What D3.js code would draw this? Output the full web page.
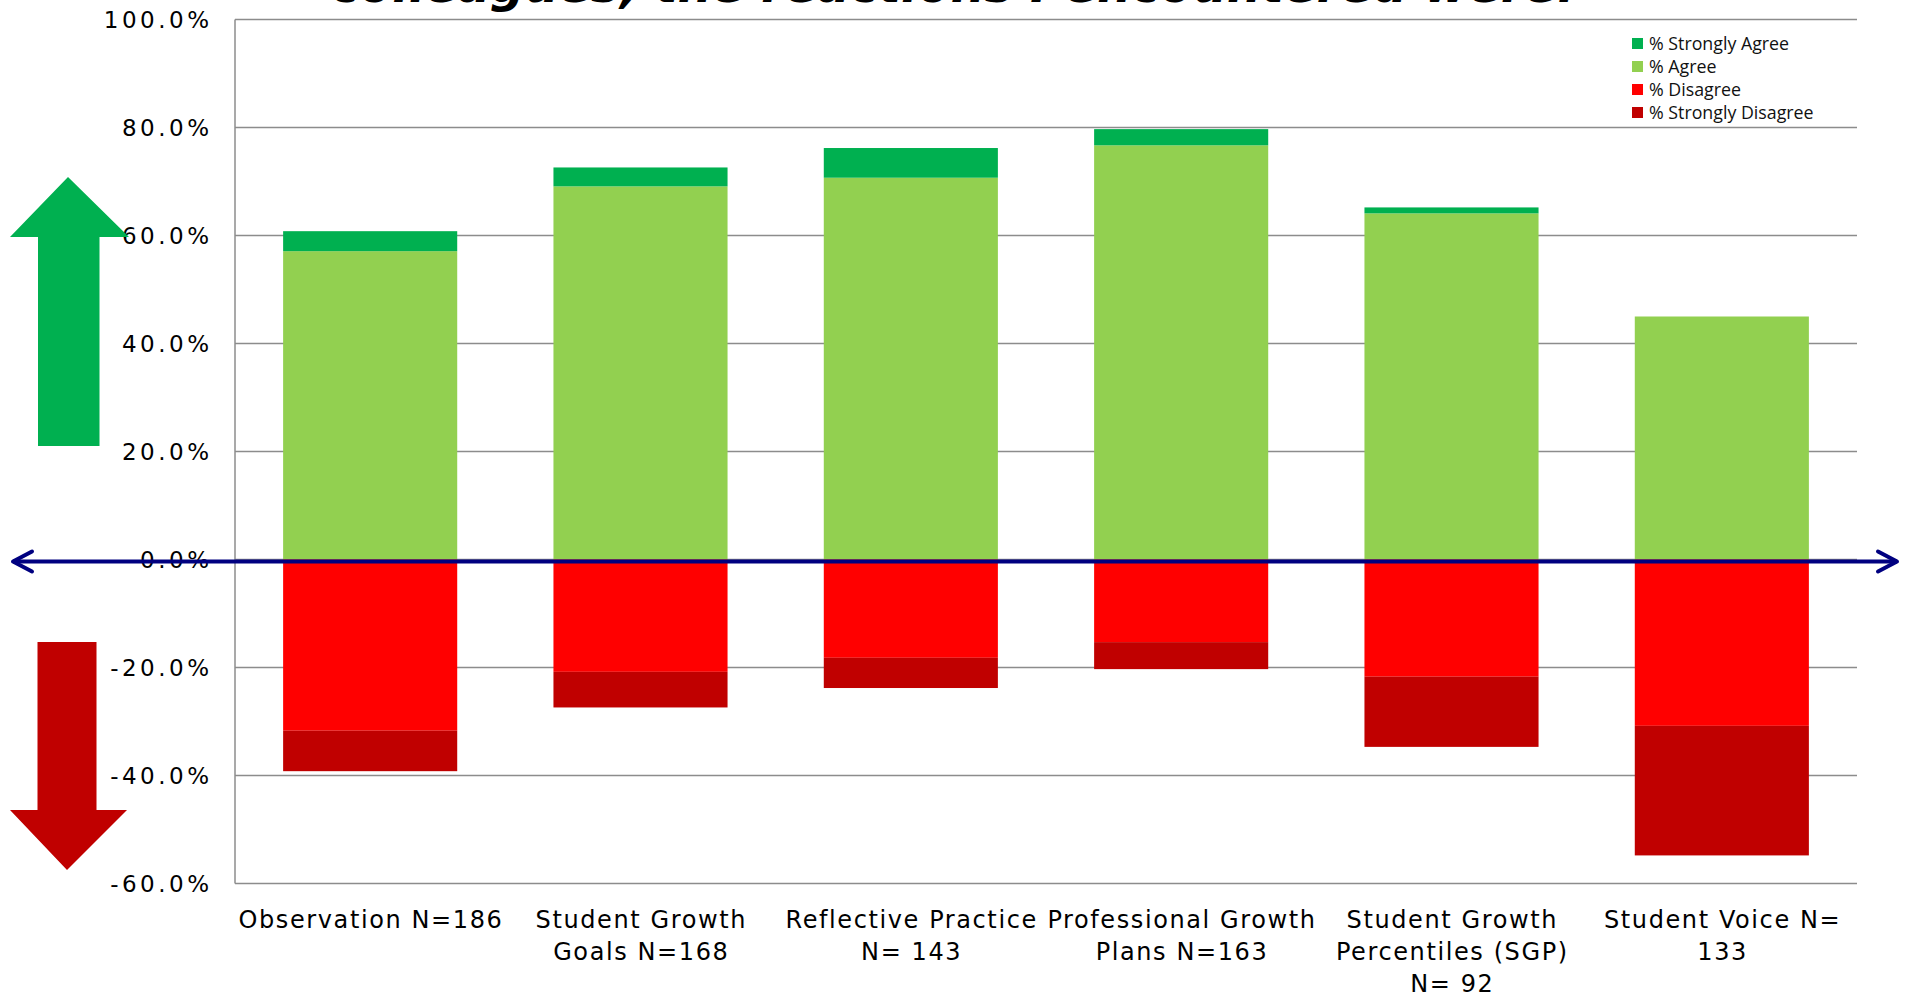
<!DOCTYPE html>
<html>
<head>
<meta charset="utf-8">
<script src="https://cdn.jsdelivr.net/npm/d3@7"></script>
<style>
html,body{margin:0;padding:0;background:#fff;}
svg{display:block;}
</style>
</head>
<body>
<svg id="chart" width="1908" height="997"></svg>
<script>
// ---- data ----
const categories = ["Observation N=186", "Student Growth Goals N=168", "Reflective Practice N= 143", "Professional Growth Plans N=163", "Student Growth Percentiles (SGP) N= 92", "Student Voice N= 133"];
const categoryLines = [
  ["Observation N=186"],
  ["Student Growth", "Goals N=168"],
  ["Reflective Practice", "N= 143"],
  ["Professional Growth", "Plans N=163"],
  ["Student Growth", "Percentiles (SGP)", "N= 92"],
  ["Student Voice N=", "133"]
];
const stronglyAgree    = [3.7, 3.5, 5.5, 3.0, 1.1, 0.0];
const agree            = [57.1, 69.1, 70.7, 76.7, 64.1, 45.0];
const disagree         = [31.7, 20.8, 18.2, 15.3, 21.7, 30.8];
const stronglyDisagree = [7.5, 6.6, 5.6, 5.0, 13.0, 24.0];
const yTicks = [-60, -40, -20, 0, 20, 40, 60, 80, 100];
const seriesNames = ["% Strongly Agree", "% Agree", "% Disagree", "% Strongly Disagree"];
const seriesColors = ["#00b050", "#92d050", "#ff0000", "#c00000"];
const titleText = "colleagues, the reactions I encountered were:";

// ---- layout ----
const svg = d3.select("#chart");
const plotLeft = 235, plotRight = 1857, plotTop = 19.5, plotBottom = 883.5;

const x = d3.scaleBand().domain(categories).range([plotLeft, plotRight]).paddingInner(0.356).paddingOuter(0.178);
const y = d3.scaleLinear().domain([-60, 100]).range([plotBottom, plotTop]);

const rows = categories.map((c, i) => ({
  cat: c,
  agree: agree[i],
  sa: stronglyAgree[i],
  dis: -disagree[i],
  sd: -stronglyDisagree[i]
}));
const keys = ["agree", "sa", "dis", "sd"];
const keyColor = {agree: seriesColors[1], sa: seriesColors[0], dis: seriesColors[2], sd: seriesColors[3]};
const stacked = d3.stack().keys(keys).offset(d3.stackOffsetDiverging)(rows);

// title (cut off at top, as in the reference)
svg.append("text")
  .attr("x", 331).attr("y", 2)
  .attr("font-family", "DejaVu Sans, Verdana, sans-serif")
  .attr("font-weight", "bold").attr("font-style", "italic")
  .attr("font-size", 48)
  .attr("fill", "#000")
  .text(titleText);

// gridlines
const grid = svg.append("g");
grid.selectAll("line").data(yTicks).join("line")
  .attr("x1", plotLeft).attr("x2", plotRight)
  .attr("y1", d => y(d)).attr("y2", d => y(d))
  .attr("stroke", "#8c8c8c").attr("stroke-width", 1.5);
// left axis line
svg.append("line")
  .attr("x1", plotLeft).attr("x2", plotLeft)
  .attr("y1", y(100)).attr("y2", y(-60))
  .attr("stroke", "#8c8c8c").attr("stroke-width", 1.5);

// tick labels
const fmt = d => (d3.format(".1f")(d) + "%").replace("\u2212", "-");
svg.append("g").selectAll("text").data(yTicks).join("text")
  .attr("x", 212.5).attr("y", d => y(d))
  .attr("dy", "0.36em")
  .attr("text-anchor", "end")
  .attr("font-family", "DejaVu Sans, Verdana, sans-serif")
  .attr("font-size", 23)
  .attr("letter-spacing", 3.5)
  .attr("fill", "#000")
  .text(fmt);

// bars
const barG = svg.append("g");
stacked.forEach(layer => {
  barG.append("g").attr("fill", keyColor[layer.key])
    .selectAll("rect").data(layer).join("rect")
    .attr("x", d => x(d.data.cat))
    .attr("width", x.bandwidth())
    .attr("y", d => y(Math.max(d[0], d[1])))
    .attr("height", d => Math.abs(y(d[0]) - y(d[1])));
});

// x labels
const xl = svg.append("g");
categories.forEach((c, i) => {
  const cx = x(c) + x.bandwidth() / 2 + 0.8;
  const t = xl.append("text")
    .attr("x", cx)
    .attr("y", 928)
    .attr("text-anchor", "middle")
    .attr("font-family", "DejaVu Sans, Verdana, sans-serif")
    .attr("font-size", 24)
    .attr("letter-spacing", 1.6)
    .attr("fill", "#000");
  categoryLines[i].forEach((ln, j) => {
    t.append("tspan").attr("x", cx).attr("dy", j === 0 ? 0 : 32).text(ln);
  });
});

// zero line with arrowheads
const zy = y(0) + 2;
const zl = svg.append("g").attr("stroke", "#000080").attr("stroke-width", 4).attr("fill", "none")
  .attr("stroke-linecap", "round").attr("stroke-linejoin", "round");
zl.append("line").attr("x1", 13).attr("x2", 1897).attr("y1", zy).attr("y2", zy).attr("stroke-linecap", "butt");
zl.append("path").attr("d", `M32,${zy - 10} L13,${zy} L32,${zy + 10}`);
zl.append("path").attr("d", `M1878,${zy - 10} L1897,${zy} L1878,${zy + 10}`);

// big arrows
svg.append("path")
  .attr("d", "M68,177 L129,237 L99.5,237 L99.5,446 L38,446 L38,237 L10,237 Z")
  .attr("fill", "#00b050");
svg.append("path")
  .attr("d", "M37.5,642 L96.5,642 L96.5,810 L127,810 L67,870 L10,810 L37.5,810 Z")
  .attr("fill", "#c00000");

// legend
const leg = svg.append("g");
seriesNames.forEach((n, i) => {
  const cy = 43.5 + i * 23;
  leg.append("rect").attr("x", 1632).attr("y", cy - 5.5).attr("width", 11).attr("height", 11).attr("fill", seriesColors[i]);
  leg.append("text").attr("x", 1649).attr("y", cy).attr("dy", "0.35em")
    .attr("font-family", "Open Sans, sans-serif").attr("font-size", 17.8)
    .attr("fill", "#111").text(n);
});
</script>
</body>
</html>
